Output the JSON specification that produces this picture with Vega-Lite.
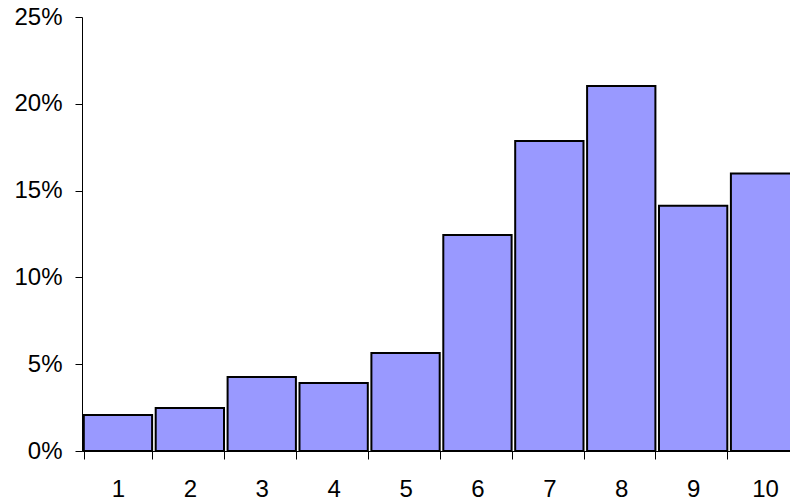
{
  "$schema": "https://vega.github.io/schema/vega-lite/v6.json",
  "autosize": "none",
  "padding": {"left": 82, "top": 17, "right": 0, "bottom": 51},
  "width": 708,
  "height": 434,
  "background": "white",
  "config": {
    "view": {"stroke": null},
    "axis": {
      "grid": false,
      "domainColor": "#000000",
      "tickColor": "#000000",
      "labelColor": "#000000",
      "labelFont": "Liberation Sans",
      "labelFontSize": 24,
      "domainWidth": 1,
      "tickWidth": 1,
      "title": null
    }
  },
  "data": {
    "values": [
      {"score": "1", "share": 0.0207},
      {"score": "2", "share": 0.0248},
      {"score": "3", "share": 0.0426},
      {"score": "4", "share": 0.0392},
      {"score": "5", "share": 0.0565},
      {"score": "6", "share": 0.1244},
      {"score": "7", "share": 0.1785},
      {"score": "8", "share": 0.2103},
      {"score": "9", "share": 0.1413},
      {"score": "10", "share": 0.1598}
    ]
  },
  "mark": {"type": "bar", "fill": "#9999ff", "stroke": "#000000", "strokeWidth": 2},
  "encoding": {
    "x": {
      "field": "score",
      "type": "ordinal",
      "sort": null,
      "scale": {"range": [0, 719], "paddingInner": 0.05, "paddingOuter": 0.025},
      "axis": {"labelAngle": 0, "tickBand": "extent", "tickSize": 8, "labelPadding": 18}
    },
    "y": {
      "field": "share",
      "type": "quantitative",
      "scale": {"domain": [0, 0.25], "nice": false},
      "axis": {"values": [0, 0.05, 0.1, 0.15, 0.2, 0.25], "format": ".0%", "tickSize": 7, "labelPadding": 13}
    }
  }
}
